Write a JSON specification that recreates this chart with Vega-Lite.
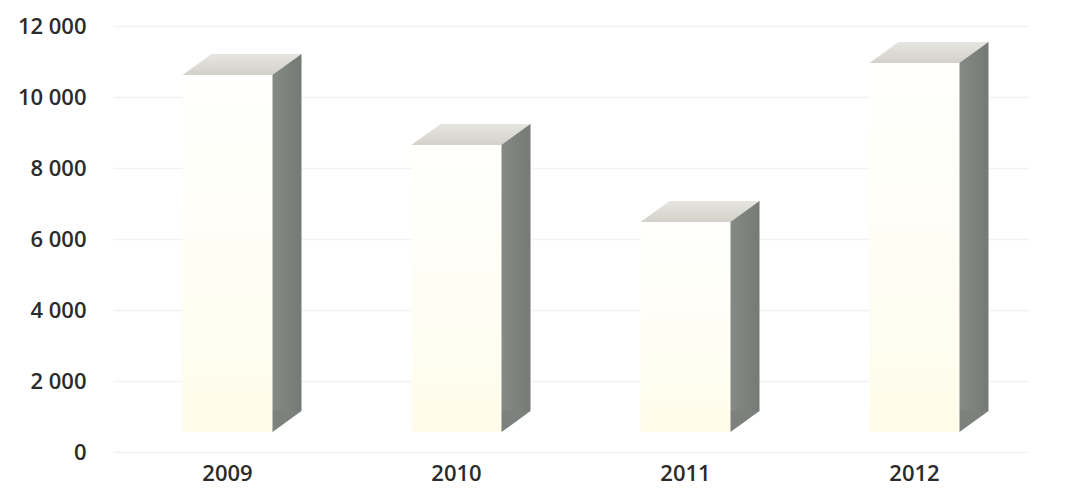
{
  "$schema": "https://vega.github.io/schema/vega-lite/v6.json",
  "autosize": "none",
  "width": 916,
  "height": 426,
  "padding": {"left": 113, "top": 26, "right": 46, "bottom": 41},
  "background": "white",
  "config": {"view": {"stroke": null}},
  "data": {"values": [
    {"year": "2009", "value": 10620},
    {"year": "2010", "value": 8650},
    {"year": "2011", "value": 6480},
    {"year": "2012", "value": 10960}
  ]},
  "encoding": {
    "x": {
      "field": "year", "type": "nominal",
      "scale": {"type": "band", "paddingInner": 0, "paddingOuter": 0},
      "axis": {"title": null, "domain": false, "ticks": false, "labelAngle": 0, "labelDx": -27, "labelPadding": 11,
        "labelFontSize": 22, "labelFont": "Open Sans", "labelFontWeight": 600, "labelColor": "#2b2b2b", "labelBaseline": "top"}
    }
  },
  "layer": [
    {
      "mark": {"type": "bar", "width": {"band": 0.393},
        "fill": {"gradient": "linear", "x1": 0, "y1": 0, "x2": 0, "y2": 1,
          "stops": [{"offset": 0, "color": "#fffffd"}, {"offset": 0.6, "color": "#fffef4"}, {"offset": 1, "color": "#fffce9"}]}},
      "encoding": {
        "y": {"field": "value", "type": "quantitative",
          "scale": {"domain": [0, 12000], "nice": false, "zero": true},
          "axis": {"title": null, "domain": false, "ticks": false, "values": [0, 2000, 4000, 6000, 8000, 10000, 12000],
            "labelPadding": 27, "labelFontSize": 22, "labelFont": "Open Sans", "labelFontWeight": 600, "labelColor": "#2b2b2b",
            "labelFlush": false, "labelExpr": "replace(format(datum.value, ','), ',', ' ')",
            "grid": true, "gridColor": "#f3f3f3", "gridWidth": 1.5}},
        "y2": {"datum": 560}
      }
    },
    {
      "mark": {"type": "bar", "width": 29, "xOffset": 59.5, "yOffset": -21, "y2Offset": -21,
        "fill": {"gradient": "linear", "x1": 0, "y1": 0, "x2": 1, "y2": 0,
          "stops": [{"offset": 0, "color": "#868a86"}, {"offset": 1, "color": "#767a76"}]}},
      "encoding": {
        "y": {"field": "value", "type": "quantitative"},
        "y2": {"datum": 560}
      }
    },
    {
      "mark": {"type": "point", "shape": "M 0.75 -0.35 L 1.2333 -0.35 L 0.75 0 Z", "size": 14400, "filled": true,
        "fill": "#7d817d", "opacity": 1, "strokeWidth": 0},
      "encoding": {"y": {"datum": 560, "type": "quantitative"}}
    },
    {
      "mark": {"type": "point", "shape": "M -0.75 0 L 0.75 0 L 1.2333 -0.35 L -0.2667 -0.35 Z", "size": 14400, "filled": true,
        "fill": {"gradient": "linear", "x1": 0, "y1": 0, "x2": 0, "y2": 1,
          "stops": [{"offset": 0, "color": "#e6e5df"}, {"offset": 1, "color": "#d3d1ca"}]},
        "opacity": 1, "strokeWidth": 0},
      "encoding": {"y": {"field": "value", "type": "quantitative"}}
    }
  ]
}
